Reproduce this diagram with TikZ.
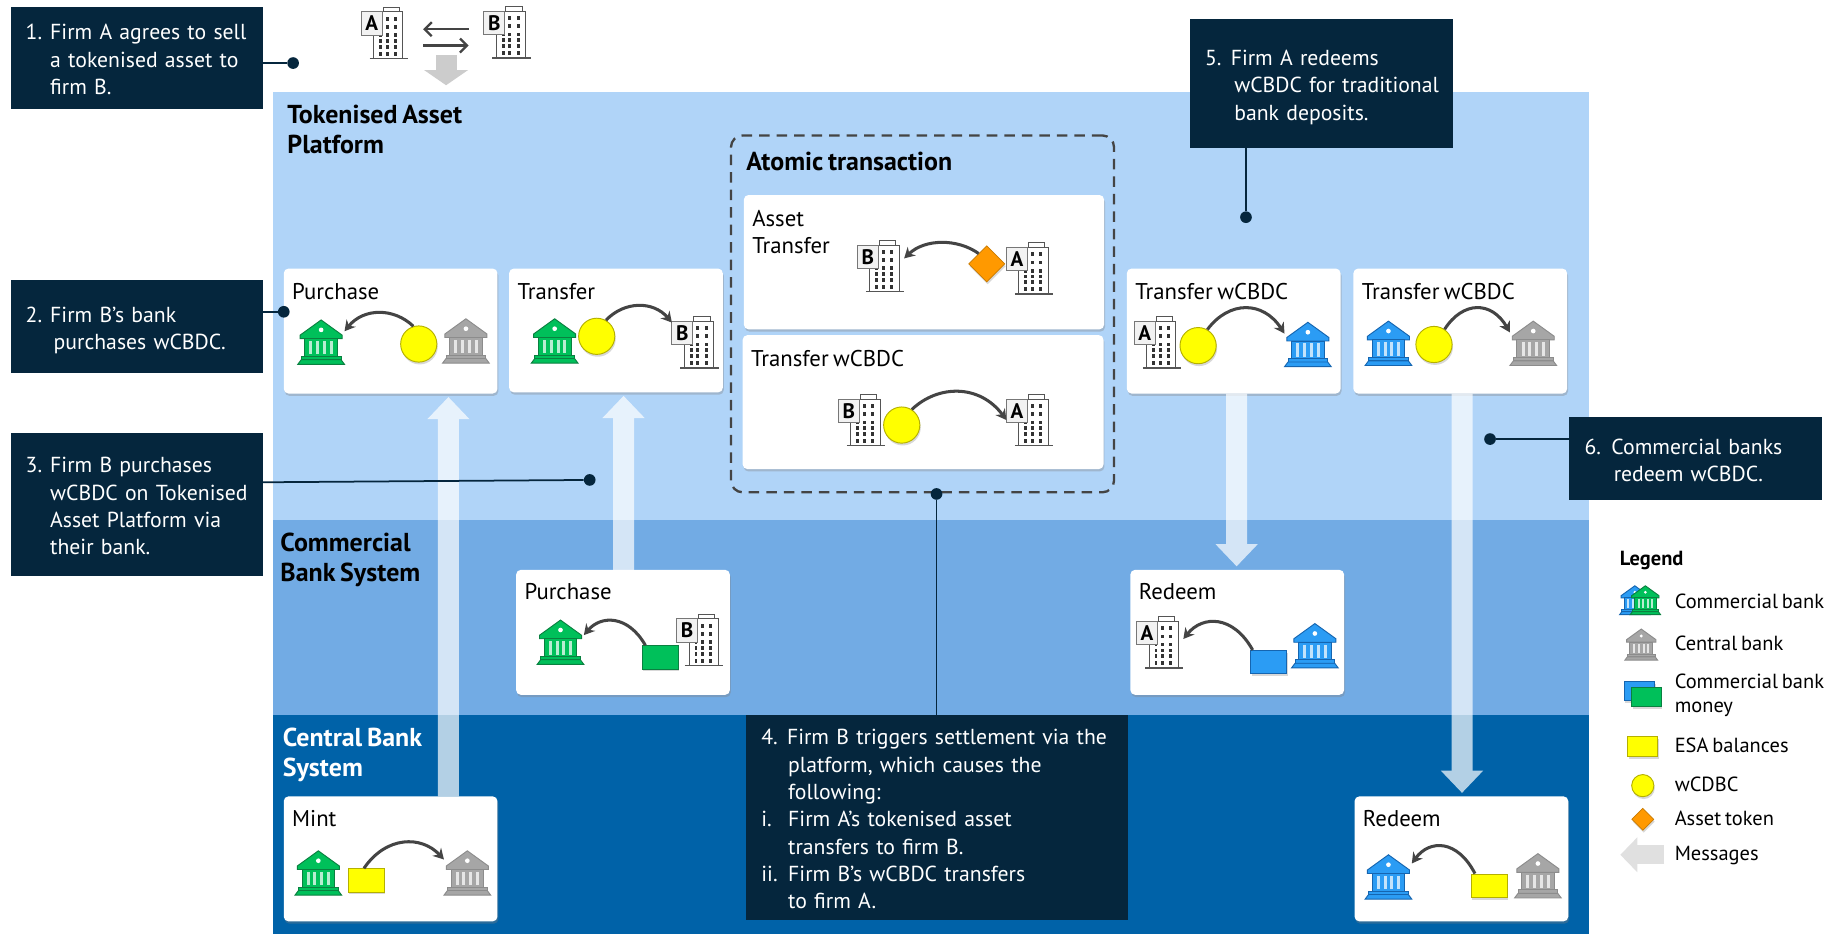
\documentclass[tikz,border=0pt]{standalone}
\usepackage{fontspec}
\setmainfont[WordSpace=0.72]{PT Sans}
\usetikzlibrary{arrows.meta,calc,shadows,shapes.geometric}
\definecolor{navy}{HTML}{05263D}
\definecolor{platA}{HTML}{B0D4F8}
\definecolor{platB}{HTML}{72ABE4}
\definecolor{platC}{HTML}{0062A8}
\definecolor{gF}{HTML}{00C05A}\definecolor{gS}{HTML}{0A8040}
\definecolor{bF}{HTML}{2B9CF4}\definecolor{bS}{HTML}{1565B0}
\definecolor{yF}{HTML}{A6A6A6}\definecolor{yS}{HTML}{8C8C8C}
\definecolor{coinF}{HTML}{FFFF00}\definecolor{coinS}{HTML}{B5B000}
\definecolor{tokF}{HTML}{FF9900}\definecolor{tokS}{HTML}{C87A00}
\definecolor{flowc}{HTML}{444444}
\definecolor{firmc}{HTML}{555555}
\newcommand\bodyfont{\fontsize{19.5}{23.4}\selectfont}
\newcommand\calloutfont{\fontsize{18.6}{23.4}\selectfont}
\newcommand\headfont{\fontsize{22.2}{25.5}\bfseries\selectfont}
\newcommand\legfont{\fontsize{17.5}{21}\selectfont}
\tikzset{
  x=1pt,y=-1pt,
  region/.style={anchor=north west,inner sep=0pt,outer sep=0pt},
  cardbox/.style={anchor=north west,fill=white,rounded corners=4pt,inner sep=0pt,outer sep=0pt,
     drop shadow={shadow xshift=0.8pt,shadow yshift=-2pt,opacity=.35}},
  cardtext/.style={anchor=west,inner sep=0pt,font=\bodyfont,align=left},
  callout/.style={anchor=north west,fill=navy,text=white,font=\calloutfont,align=left,inner xsep=3pt,inner ysep=0pt,outer sep=0pt,execute at begin node=\rule{0pt}{23pt},execute at end node=\strut},
  title/.style={anchor=north west,inner sep=0pt,font=\headfont,align=left},
  iconbox/.style={inner sep=0pt,outer sep=0pt},
  coin/.style={circle,draw=coinS,fill=coinF,line width=.8pt,inner sep=0pt,minimum size=31pt,
     drop shadow={shadow xshift=0.8pt,shadow yshift=-2pt,opacity=.3}},
  token/.style={diamond,draw=tokS,fill=tokF,line width=.6pt,inner sep=0pt,minimum size=31pt,
     drop shadow={shadow xshift=0.8pt,shadow yshift=-2pt,opacity=.3}},
  note/.style={rectangle,line width=.8pt,inner sep=0pt,minimum width=31pt,minimum height=20pt,
     drop shadow={shadow xshift=0.8pt,shadow yshift=-2pt,opacity=.3}},
  flow/.style={draw=flowc,line width=2.6pt,-{Stealth[length=9pt,width=10pt]}},
  bigarrow/.style={draw=white,line width=18pt,-{Triangle[width=35pt,length=19pt]}},
  leader/.style={draw=navy,line width=1.5pt},
  dot/.style={circle,fill=navy,inner sep=0pt,minimum size=10pt},
  swaparrow/.style={draw=flowc,line width=2pt,shorten <=13pt,shorten >=13pt,-{Straight Barb[length=6pt,width=12pt]}},
  legtext/.style={anchor=west,inner sep=0pt,font=\legfont,align=left},
}
% [scale]{name}{x}{y}{fill}{stroke}
\newcommand\bank[6][1]{%
  \node[iconbox,minimum width=#1*40pt,minimum height=#1*38pt] (#2) at (#3,#4) {};
  \begin{scope}[shift={(#3,#4)},scale=#1,bankpart/.style={fill=#5,draw=#6,line width=.8pt}]
    \filldraw[bankpart] (-18,-6)--(0,-19)--(18,-6)--(18,-3)--(-18,-3)--cycle;
    \fill[white] (0,-10.5) circle (2);
    \filldraw[bankpart] (-14,-3) rectangle (14,12);
    \foreach \c in {-8.7,-2.9,2.9,8.7} \fill[white,opacity=.72] (\c-1.3,-1) rectangle (\c+1.3,10.5);
    \filldraw[bankpart] (-17,12) rectangle (17,15);
    \filldraw[bankpart] (-17,15)--(17,15)--(20,19)--(-20,19)--cycle;
  \end{scope}}
% {name}{base x}{base y}{letter}
\newcommand\firm[4]{%
  \node[iconbox,minimum width=40pt,minimum height=44pt] (#1) at (#2-3.65,#3-22) {};
  \begin{scope}[shift={(#2,#3)}]
    \filldraw[fill=white,draw=firmc,line width=.8pt] (-5,-44) rectangle (9,-40);
    \filldraw[fill=white,draw=firmc,line width=.8pt] (-13,-40) rectangle (12,0);
    \foreach \wy in {-34,-27} \foreach \wx in {-1.4,5.7}
      \fill[black!80] (\wx-1.2,\wy-1.6) rectangle (\wx+1.2,\wy+1.6);
    \foreach \wy in {-20,-15,-10,-4} \foreach \wx in {-7,-1.4,5.7}
      \fill[black!80] (\wx-1.2,\wy-1.6) rectangle (\wx+1.2,\wy+1.6);
    \draw[draw=firmc,line width=1.2pt] (-16.4,0)--(16.4,0);
    \filldraw[fill=black!5,draw=firmc!80,line width=.8pt] (-23.7,-40) rectangle (-5.7,-20);
    \node[inner sep=0pt,font=\fontsize{18}{18}\bfseries\selectfont] (#1-l) at (-14.7,-30) {#4};
  \end{scope}}
% {start}{end}{peak y}
\newcommand\flowarc[3]{%
  \draw[flow] let \p1=(#1),\p2=(#2),\n1={(-8*#3pt-\y1-\y2)/6} in
    (#1) .. controls ({\x1+0.28*(\x2-\x1)},\n1) and ({\x1+0.72*(\x2-\x1)},\n1) .. (#2);}
\newcommand\cardat[5]{\node[cardbox,minimum width=#4pt,minimum height=#5pt] (#1) at (#2,#3) {};}
\newcommand\numl[2]{\hspace*{10pt}\makebox[#1pt][l]{#2}}
\newcommand\ind[1]{\hspace*{\dimexpr10pt+#1pt\relax}}
\begin{document}
\begin{tikzpicture}
\useasboundingbox (0,0) rectangle (1568,799.86);
\fill[white] (0,0) rectangle (1568,799.86);
% regions
\node[region,fill=platA,minimum width=1127pt,minimum height=366pt] (platform) at (234,79) {};
\node[region,fill=platB,minimum width=1127pt,minimum height=167pt] (commercial) at (234,445) {};
\node[region,fill=platC,minimum width=1127pt,minimum height=188pt] (central) at (234,612) {};
\node[title] (tplat) at (246,90) {Tokenised Asset\\Platform};
\node[title] (tcomm) at (240,456) {Commercial\\Bank System};
\node[title,text=white] (tcent) at (242,623) {Central Bank\\System};
% atomic box
\node[region,draw=flowc,dash pattern=on 9pt off 6pt,line width=2pt,rounded corners=10pt,
  minimum width=328pt,minimum height=305.6pt] (atomic) at (626,116) {};
\node[title] (tatomic) at (639,130) {Atomic transaction};
% cards
\cardat{purchB}{243}{230}{183}{107}
\cardat{transB}{436}{230}{183}{106}
\cardat{assetT}{637}{167}{308.5}{115}
\cardat{wcbdcT}{636}{287}{309}{114.7}
\cardat{transA}{965}{230}{183}{107}
\cardat{transC}{1159}{230}{183}{107}
\cardat{purchC}{442}{488}{183}{107}
\cardat{redeemC}{968}{488}{183}{107}
\cardat{mint}{243}{682}{183}{107}
\cardat{redeemR}{1160}{682}{183}{107}
% big arrows
\begin{scope}[transparency group,opacity=.7]
\draw[bigarrow,shorten >=3pt] ([xshift=49.5pt]mint.north) -- ([xshift=49.5pt]purchB.south);
\draw[bigarrow,shorten >=3pt] ([xshift=.5pt]purchC.north) -- ([xshift=6.5pt]transB.south);
\draw[bigarrow,shorten >=3pt] ([xshift=2.5pt]transA.south) -- ([xshift=-.5pt]redeemC.north);
\draw[bigarrow,shorten >=3pt] ([xshift=1.5pt]transC.south) -- ([xshift=.5pt]redeemR.north);
\end{scope}
% card labels
\node[cardtext] (l1) at (250,250) {Purchase};
\node[cardtext] (l2) at (443,250) {Transfer};
\node[cardtext] (l3) at (644,198.5) {Asset\\Transfer};
\node[cardtext] (l4) at (643,307) {Transfer wCBDC};
\node[cardtext] (l5) at (972,250) {Transfer wCBDC};
\node[cardtext] (l6) at (1166,250) {Transfer wCBDC};
\node[cardtext] (l7) at (449,507) {Purchase};
\node[cardtext] (l8) at (975,507) {Redeem};
\node[cardtext] (l9) at (250,701) {Mint};
\node[cardtext] (l10) at (1167,701) {Redeem};
% top firms
\firm{topA}{333}{50}{A}
\firm{topB}{438}{49.5}{B}
\draw[swaparrow] ([yshift=2.5pt]topB.west) -- ([yshift=3pt]topA.east);
\draw[swaparrow] ([yshift=-11pt]topA.east) -- ([yshift=-11.5pt]topB.west);
\coordinate (grayfrom) at (382,47);
\draw[draw=black!20,line width=18pt,shorten >=6pt,-{Triangle[width=37pt,length=13pt]}] (grayfrom) -- (grayfrom |- platform.north);
% Purchase
\bank{p1b}{275}{293}{gF}{gS}
\bank{p1g}{399}{292}{yF}{yS}
\node[coin] (p1c) at (358.6,294.6) {};
\flowarc{p1c.107}{p1b.25}{268}
% Transfer
\bank{p2b}{475}{292}{gF}{gS}
\firm{p2f}{599}{315}{B}
\node[coin] (p2c) at (511,288) {};
\flowarc{p2c.60}{p2f.140}{262}
% Asset transfer
\firm{a1f}{757.9}{249.8}{B}
\firm{a2f}{885.5}{251.8}{A}
\node[token] (a1t) at (845,226) {};
\flowarc{a1t.128}{a1f.18}{208}
% Transfer wCBDC atomic
\firm{w1f}{741.6}{381.7}{B}
\firm{w2f}{885.5}{381.7}{A}
\node[coin] (w1c) at (772.2,364) {};
\flowarc{w1c.57}{w2f.west}{335.6}
% Transfer wCBDC A
\firm{t1f}{995}{315}{A}
\bank{t1b}{1120}{295}{bF}{bS}
\node[coin] (t1c) at (1026,296) {};
\flowarc{t1c.60}{t1b.155}{264}
% Transfer wCBDC banks
\bank{t2b}{1189}{294}{bF}{bS}
\bank{t2g}{1313}{294}{yF}{yS}
\node[coin] (t2c) at (1228,295) {};
\flowarc{t2c.55}{t2g.155}{264}
% Purchase commercial
\bank{c1b}{480}{550}{gF}{gS}
\firm{c1f}{603}{570}{B}
\node[note,draw=gS,fill=gF] (c1n) at (565.5,563) {};
\flowarc{c1n.141}{c1b.17}{532}
% Redeem commercial
\firm{c2f}{997}{572}{A}
\bank{c2b}{1126}{553}{bF}{bS}
\node[note,draw=bS,fill=bF] (c2n) at (1086.5,567) {};
\flowarc{c2n.143}{c2f.8}{533}
% Mint
\bank{m1b}{272.6}{747.6}{gF}{gS}
\bank{m1g}{400.2}{747.6}{yF}{yS}
\node[note,draw=coinS,fill=coinF] (m1n) at (313.5,754) {};
\flowarc{m1n.100}{m1g.150}{721.6}
% Redeem central
\bank{r1b}{1189}{751}{bF}{bS}
\bank{r1g}{1317}{750}{yF}{yS}
\node[note,draw=coinS,fill=coinF] (r1n) at (1275.5,758.5) {};
\flowarc{r1n.140}{r1b.30}{725}
% callouts
\node[callout,minimum width=216pt,minimum height=87pt,text width=210pt] (c1) at (9,6)
  {\numl{21}{1.}Firm A agrees to sell\\\ind{21}a tokenised asset to\\\ind{21}firm B.};
\node[callout,minimum width=216pt,minimum height=79pt,text width=210pt] (c2) at (9,240)
  {\numl{21}{2.}Firm B’s bank\\\ind{24}purchases wCBDC.};
\node[callout,minimum width=216pt,minimum height=122pt,text width=210pt] (c3) at (9,371)
  {\numl{21}{3.}Firm B purchases\\\ind{21}wCBDC on Tokenised\\\ind{21}Asset Platform via\\\ind{21}their bank.};
\node[callout,minimum width=327pt,minimum height=176pt,text width=321pt] (c4) at (639,612)
  {\numl{22}{4.}Firm B triggers settlement via the\\\ind{23}platform, which causes the\\\ind{23}following:\\\numl{23}{i.}Firm A’s tokenised asset\\\ind{23}transfers to firm B.\\\numl{23}{ii.}Firm B’s wCBDC transfers\\\ind{23}to firm A.};
\node[callout,minimum width=225pt,minimum height=111pt,text width=219pt] (c5) at (1019,16)
  {\numl{22}{5.}Firm A redeems\\\ind{25}wCBDC for traditional\\\ind{25}bank deposits.};
\node[callout,minimum width=216pt,minimum height=71pt,text width=210pt] (c6) at (1344,357)
  {\numl{23}{6.}Commercial banks\\\ind{25}redeem wCBDC.};
% leaders
\node[dot] (d1) at (251,54) {};
\node[dot] (d2) at (243,267) {};
\node[dot] (d3) at (505,411) {};
\node[dot] (d4) at (802,423) {};
\node[dot] (d5) at (1067,186) {};
\node[dot] (d6) at (1276,376) {};
\draw[leader] (c1.east |- d1) -- (d1);
\draw[leader] (c2.east |- d2) -- (d2);
\coordinate (l3s) at (225,413);
\draw[leader] (l3s) -- (d3);
\draw[leader] (d4) -- (d4 |- c4.north);
\draw[leader] (d5 |- c5.south) -- (d5);
\draw[leader] (c6.west |- d6) -- (d6);
% legend
\node[anchor=west,inner sep=0pt,font=\fontsize{17.5}{21}\bfseries\selectfont] (legend) at (1387,480) {Legend};
\bank[.65]{lgb}{1400}{514}{bF}{bS}
\bank[.65]{lgg}{1409}{514}{gF}{gS}
\node[legtext] (lt1) at (1434,515) {Commercial bank};
\bank[.7]{lgy}{1405.5}{552}{yF}{yS}
\node[legtext] (lt2) at (1434,551) {Central bank};
\node[note,draw=bS,fill=bF,minimum width=26pt,minimum height=16pt] (ln1) at (1404,592) {};
\node[note,draw=gS,fill=gF,minimum width=25.5pt,minimum height=16pt] (ln2) at (1410,597) {};
\node[legtext] (lt3) at (1434,595.5) {Commercial bank\\money};
\node[note,draw=coinS,fill=coinF,minimum width=25.6pt,minimum height=16.6pt] (ln3) at (1406.8,639.3) {};
\node[legtext] (lt4) at (1434,638) {ESA balances};
\node[coin,minimum size=19pt] (lc) at (1406.8,672.8) {};
\node[legtext] (lt5) at (1434,672) {wCDBC};
\node[token,minimum size=19pt] (lk) at (1406.8,701.6) {};
\node[legtext] (lt6) at (1434,701) {Asset token};
\coordinate (lm1) at (1425,732);
\coordinate (lm2) at (1387.6,732);
\draw[draw=black!12,line width=16pt,-{Triangle[width=29pt,length=14.5pt]}] (lm1) -- (lm2);
\node[legtext] (lt7) at (1434,733) {Messages};
\end{tikzpicture}
\end{document}
